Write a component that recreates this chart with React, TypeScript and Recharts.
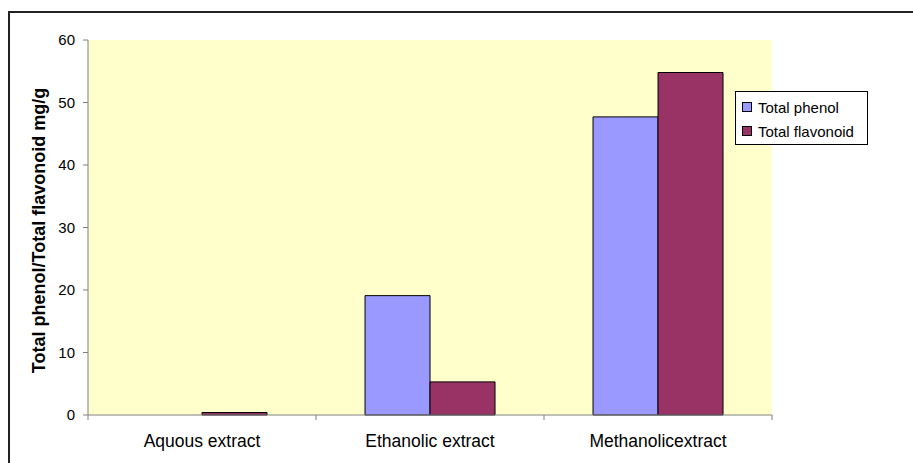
import React from 'react';
import { BarChart, Bar, XAxis, YAxis, CartesianGrid } from 'recharts';

const categories = ['Aquous extract', 'Ethanolic extract', 'Methanolicextract'];
const totalPhenol = [0, 19.1, 47.7];
const totalFlavonoid = [0.4, 5.3, 54.8];
const yTicks = [0, 10, 20, 30, 40, 50, 60];

const data = categories.map((name, i) => ({
    name,
    phenol: totalPhenol[i],
    flavonoid: totalFlavonoid[i],
}));

const W = 913;
const H = 463;
const X_AXIS_H = 30;
const M = { top: 40, right: 141, bottom: 18, left: 28 };
const Y_AXIS_W = 60;
const plotW = W - M.left - M.right - Y_AXIS_W;
const band = plotW / categories.length;
const FONT = '"Liberation Sans", Arial, sans-serif';

// eslint-disable-next-line @typescript-eslint/no-explicit-any
function CategoryTick(props: any) {
    const { x, y, payload, index } = props;
    const left = x - band / 2;
    return (
        <g>
            <line x1={left} y1={y - 8} x2={left} y2={y - 3} stroke="#808080" />
            {index === categories.length - 1 && (
                <line x1={left + band} y1={y - 8} x2={left + band} y2={y - 3} stroke="#808080" />
            )}
            <text x={x} y={y + 24} textAnchor="middle" fill="#000" fontSize={17.5} fontFamily={FONT}>
                {payload.value}
            </text>
        </g>
    );
}

// eslint-disable-next-line @typescript-eslint/no-explicit-any
function YLabel(props: any) {
    const { viewBox } = props;
    const cx = viewBox.x + 10.5;
    const cy = viewBox.y + viewBox.height / 2 + 3;
    return (
        <text
            x={cx}
            y={cy}
            transform={`rotate(-90, ${cx}, ${cy})`}
            textAnchor="middle"
            dominantBaseline="central"
            fill="#000"
            fontSize={18}
            fontWeight="bold"
            fontFamily={FONT}
        >
            Total phenol/Total flavonoid mg/g
        </text>
    );
}

function LegendBox() {
    const items = [
        { label: 'Total phenol', color: '#9999FF' },
        { label: 'Total flavonoid', color: '#993366' },
    ];
    return (
        <div style={{ position: 'absolute', left: 735, top: 91, border: '1px solid #000', background: '#fff', width: 133, height: 54, boxSizing: 'border-box', padding: '3px 0 0 6px', fontFamily: FONT, fontSize: 15 }}>
            {items.map(item => (
                <div key={item.label} style={{ display: 'flex', alignItems: 'center', height: 24 }}>
                    <span style={{ width: 8, height: 8, background: item.color, border: '1px solid #000', marginRight: 6, flexShrink: 0 }} />
                    <span style={{ color: '#000', whiteSpace: 'nowrap' }}>{item.label}</span>
                </div>
            ))}
        </div>
    );
}

export default function App() {
    return (
        <div style={{ position: 'fixed', left: 0, top: 0, width: W, height: H, overflow: 'hidden', background: '#fff' }}>
            <div style={{ position: 'absolute', left: 8, top: 11, width: 1000, height: 1000, border: '2px solid #222' }} />
            <div style={{ position: 'absolute', left: 0, top: 0 }}>
                <BarChart
                    width={W}
                    height={H}
                    data={data}
                    margin={M}
                    barGap={0}
                    barCategoryGap="21.5%"
                >
                    <CartesianGrid fill="#FFFFCC" horizontal={false} vertical={false} />
                    <XAxis
                        dataKey="name"
                        stroke="#808080"
                        tickLine={false}
                        tick={<CategoryTick />}
                        height={X_AXIS_H}
                        interval={0}
                    />
                    <YAxis
                        width={Y_AXIS_W}
                        domain={[0, 60]}
                        ticks={yTicks}
                        stroke="#808080"
                        tickSize={5}
                        tickMargin={8}
                        tick={{ fill: '#000', fontSize: 15, fontFamily: FONT }}
                        label={<YLabel />}
                    />
                    <Bar dataKey="phenol" name="Total phenol" fill="#9999FF" stroke="#000" strokeWidth={1} isAnimationActive={false} />
                    <Bar dataKey="flavonoid" name="Total flavonoid" fill="#993366" stroke="#000" strokeWidth={1} isAnimationActive={false} />
                </BarChart>
            </div>
            <LegendBox />
        </div>
    );
}
